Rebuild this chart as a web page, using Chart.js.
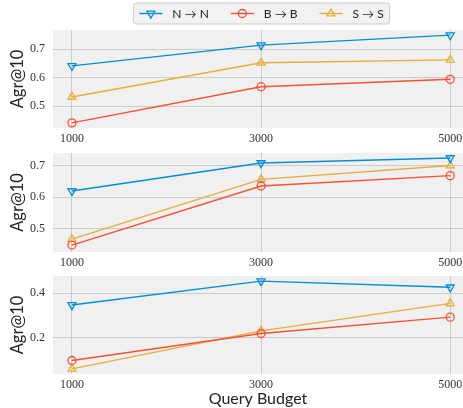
<!DOCTYPE html>
<html>
<head>
<meta charset="utf-8">
<script src="https://cdn.jsdelivr.net/npm/chart.js@4.4.0/dist/chart.umd.min.js"></script>
<style>
  html,body{margin:0;padding:0;background:#fff;}
  #wrap{position:relative;width:463px;height:408px;overflow:hidden;}
  canvas{position:absolute;left:0;}
</style>
</head>
<body>
<div id="wrap">
  <canvas id="c1" width="463" height="145" style="top:0px;width:463px;height:145px;"></canvas>
  <canvas id="c2" width="463" height="118" style="top:150px;width:463px;height:118px;"></canvas>
  <canvas id="c3" width="463" height="140" style="top:268px;width:463px;height:140px;"></canvas>
</div>
<script>
// ---------------- data ----------------
const budgets = [1000, 3000, 5000];
const seriesLabels = ['N \u2192 N', 'B \u2192 B', 'S \u2192 S'];

const p1N = [0.641, 0.714, 0.749];
const p1B = [0.441, 0.568, 0.594];
const p1S = [0.532, 0.652, 0.662];

const p2N = [0.619, 0.708, 0.724];
const p2B = [0.447, 0.635, 0.668];
const p2S = [0.466, 0.656, 0.700];

const p3N = [0.347, 0.455, 0.427];
const p3B = [0.096, 0.218, 0.292];
const p3S = [0.058, 0.230, 0.354];

const yTicks1 = [0.5, 0.6, 0.7];
const yTicks2 = [0.5, 0.6, 0.7];
const yTicks3 = [0.2, 0.4];

const yRange1 = [0.423, 0.767];
const yRange2 = [0.425, 0.740];
const yRange3 = [0.035, 0.478];
const xRange = [800, 5135];

// ---------------- style ----------------
const COLORS = ['#008fd5', '#fc4f30', '#e5ae38'];
const STYLES = [
  {pointStyle: 'triangle', rotation: 180, radius: 4.6},
  {pointStyle: 'circle', rotation: 0, radius: 4.0},
  {pointStyle: 'triangle', rotation: 0, radius: 4.6}
];
const SANS = "Lato, 'DejaVu Sans', sans-serif";
const SERIF = "'Liberation Serif', 'DejaVu Serif', serif";
const GRID = '#cbcbcb';
const PLOT_BG = '#f0f0f0';

function toXY(vals) { return budgets.map((b, i) => ({x: b, y: vals[i]})); }

function makeDatasets(n, b, s) {
  return [n, b, s].map((vals, i) => ({
    label: seriesLabels[i],
    data: toXY(vals),
    borderColor: COLORS[i],
    backgroundColor: 'rgba(0,0,0,0)',
    borderWidth: 1.4,
    pointStyle: STYLES[i].pointStyle,
    pointRotation: STYLES[i].rotation,
    pointRadius: STYLES[i].radius,
    pointHoverRadius: STYLES[i].radius,
    pointBorderWidth: 1.3,
    pointBorderColor: COLORS[i],
    pointBackgroundColor: 'rgba(0,0,0,0)',
    tension: 0,
    clip: false
  }));
}

const bgPlugin = {
  id: 'plotBg',
  beforeDraw(chart) {
    const a = chart.chartArea, ctx = chart.ctx;
    ctx.save();
    ctx.fillStyle = PLOT_BG;
    ctx.fillRect(a.left, a.top, a.right - a.left, a.bottom - a.top);
    ctx.restore();
  }
};

function drawMarker(ctx, st, color, x, y) {
  ctx.save();
  ctx.strokeStyle = color;
  ctx.fillStyle = 'rgba(0,0,0,0)';
  ctx.lineWidth = 1.3;
  if (Chart.helpers && Chart.helpers.drawPoint) {
    Chart.helpers.drawPoint(ctx, {pointStyle: st.pointStyle, rotation: st.rotation, radius: st.radius, borderWidth: 1.3}, x, y);
  } else {
    ctx.beginPath();
    ctx.arc(x, y, st.radius, 0, Math.PI * 2);
    ctx.stroke();
  }
  ctx.restore();
}

const legendPlugin = {
  id: 'boxLegend',
  afterDraw(chart) {
    const ctx = chart.ctx;
    ctx.save();
    ctx.font = '12px ' + SANS;
    const lineLen = 23, gapText = 10, itemGap = 22, padX = 6;
    const widths = seriesLabels.map(l => ctx.measureText(l).width);
    let total = 0;
    widths.forEach((w, i) => { total += lineLen + gapText + w + (i ? itemGap : 0); });
    const cx = 261.5, cy = 13.5;
    const boxL = cx - total / 2 - padX, boxW = total + 2 * padX;
    const boxT = 3, boxH = 21;
    ctx.beginPath();
    if (ctx.roundRect) ctx.roundRect(boxL, boxT, boxW, boxH, 3); else ctx.rect(boxL, boxT, boxW, boxH);
    ctx.fillStyle = 'rgba(240,240,240,0.85)';
    ctx.fill();
    ctx.strokeStyle = '#cccccc';
    ctx.lineWidth = 1;
    ctx.stroke();
    let x = cx - total / 2;
    seriesLabels.forEach((l, i) => {
      ctx.strokeStyle = COLORS[i];
      ctx.lineWidth = 1.4;
      ctx.beginPath();
      ctx.moveTo(x, cy); ctx.lineTo(x + lineLen, cy);
      ctx.stroke();
      drawMarker(ctx, STYLES[i], COLORS[i], x + lineLen / 2, cy);
      ctx.fillStyle = '#222';
      ctx.textBaseline = 'middle';
      ctx.textAlign = 'left';
      ctx.fillText(l, x + lineLen + gapText, cy + 0.5);
      x += lineLen + gapText + widths[i] + itemGap;
    });
    ctx.restore();
  }
};

function makeChart(id, sets, yTicks, yRange, opts) {
  const xTitle = !!opts.xTitle;
  return new Chart(document.getElementById(id), {
    type: 'line',
    data: {datasets: sets},
    plugins: opts.legend ? [bgPlugin, legendPlugin] : [bgPlugin],
    options: {
      responsive: false,
      animation: false,
      devicePixelRatio: 1,
      layout: {padding: {top: opts.padTop, left: 0, right: 0, bottom: 0}, autoPadding: false},
      plugins: {legend: {display: false}, tooltip: {enabled: false}},
      scales: {
        x: {
          type: 'linear',
          min: xRange[0], max: xRange[1],
          afterBuildTicks: s => { s.ticks = budgets.map(v => ({value: v})); },
          afterFit: s => { s.height = opts.xHeight; s.paddingLeft = 0; s.paddingRight = 0; },
          grid: {color: GRID, lineWidth: 1, drawTicks: false},
          border: {display: false},
          ticks: {
            padding: 4,
            color: '#333',
            font: {family: SERIF, size: 12},
            maxRotation: 0,
            callback: v => String(v)
          },
          title: xTitle ? {
            display: true, text: 'Query Budget', color: '#222',
            font: {family: SANS, size: 16}, padding: {top: 0, bottom: 0}
          } : {display: false}
        },
        y: {
          type: 'linear',
          min: yRange[0], max: yRange[1],
          afterBuildTicks: s => { s.ticks = yTicks.map(v => ({value: v})); },
          afterFit: s => { s.width = 53; s.paddingTop = 0; s.paddingBottom = 0; },
          grid: {color: GRID, lineWidth: 1, drawTicks: false},
          border: {display: false},
          ticks: {
            padding: 8,
            color: '#333',
            font: {family: SERIF, size: 12},
            callback: v => Number(v).toFixed(1)
          },
          title: {
            display: true, text: 'Agr@10', color: '#222',
            font: {family: SANS, size: 16.5}, padding: {top: 8, bottom: 0}
          }
        }
      }
    }
  });
}

makeChart('c1', makeDatasets(p1N, p1B, p1S), yTicks1, yRange1, {padTop: 30, xHeight: 17, legend: true});
makeChart('c2', makeDatasets(p2N, p2B, p2S), yTicks2, yRange2, {padTop: 3, xHeight: 16});
makeChart('c3', makeDatasets(p3N, p3B, p3S), yTicks3, yRange3, {padTop: 8, xHeight: 34, xTitle: true});
</script>
</body>
</html>
